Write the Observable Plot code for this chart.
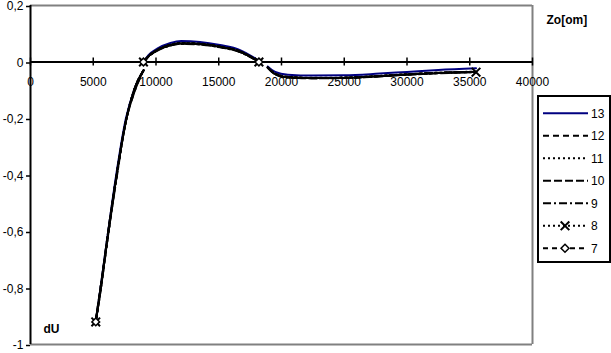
<!DOCTYPE html>
<html><head><meta charset="utf-8">
<script src="https://cdn.jsdelivr.net/npm/d3@7"></script>
<script src="https://cdn.jsdelivr.net/npm/@observablehq/plot@0.6"></script>
<style>
body{margin:0;background:#fff;font-family:"Liberation Sans",Arial,sans-serif;}
#wrap{position:relative;width:611px;height:353px;overflow:hidden;}
#wrap svg{position:absolute;left:0;top:0;}
</style></head><body><div id="wrap"></div>
<script>
const seriesNames = ["13","12","11","10","9","8","7"];
const xValues = [5200,5580,6190,6830,7600,8250,9000,
  9000,9400,10100,11150,12000,13500,15100,16700,17700,18200,
  18900,19500,20500,22500,25000,27500,30000,32500,35500];
const segmentOf = [0,0,0,0,0,0,0, 1,1,1,1,1,1,1,1,1,1, 2,2,2,2,2,2,2,2,2];
const s13 = [-0.92,-0.80,-0.60,-0.40,-0.20,-0.10,-0.03,
  0.000,0.024,0.047,0.067,0.074,0.071,0.060,0.042,0.018,0.003,
  -0.016,-0.035,-0.045,-0.048,-0.047,-0.042,-0.035,-0.028,-0.022];
const s12 = [-0.91,-0.80,-0.61,-0.41,-0.21,-0.11,-0.03,
  0.000,0.020,0.042,0.060,0.066,0.064,0.054,0.037,0.015,0.002,
  -0.020,-0.042,-0.053,-0.057,-0.056,-0.051,-0.044,-0.039,-0.035];
const s11 = [-0.92,-0.81,-0.61,-0.41,-0.21,-0.10,-0.03,
  0.000,0.021,0.043,0.061,0.067,0.065,0.055,0.038,0.015,0.002,
  -0.019,-0.041,-0.052,-0.056,-0.055,-0.050,-0.043,-0.038,-0.034];
const s10 = [-0.92,-0.80,-0.60,-0.41,-0.21,-0.10,-0.03,
  0.000,0.020,0.041,0.059,0.065,0.063,0.053,0.036,0.014,0.001,
  -0.021,-0.044,-0.055,-0.058,-0.057,-0.052,-0.045,-0.040,-0.036];
const s9 = [-0.92,-0.81,-0.61,-0.42,-0.21,-0.11,-0.03,
  0.000,0.019,0.040,0.058,0.064,0.062,0.052,0.035,0.013,0.001,
  -0.020,-0.042,-0.054,-0.057,-0.056,-0.051,-0.045,-0.039,-0.035];
const s8 = [-0.92,-0.80,-0.61,-0.41,-0.21,-0.10,-0.03,
  0.000,0.021,0.042,0.060,0.066,0.064,0.054,0.037,0.015,0.000,
  -0.019,-0.042,-0.053,-0.057,-0.056,-0.050,-0.044,-0.039,-0.036];
const s7 = [-0.92,-0.81,-0.60,-0.41,-0.21,-0.10,-0.03,
  0.000,0.020,0.042,0.061,0.067,0.064,0.054,0.036,0.014,0.000,
  -0.020,-0.043,-0.054,-0.057,-0.056,-0.051,-0.044,-0.038,-0.035];
const seriesValues = [s13,s12,s11,s10,s9,s8,s7];
const markers8 = [0,7,16,25];
const markers7 = [0,7,16];
const xTicks = [0,5000,10000,15000,20000,25000,30000,35000,40000];
const yTicks = [-1,-0.8,-0.6,-0.4,-0.2,0,0.2];

const styles = {
  "13":{stroke:"#000080",dash:null},
  "12":{stroke:"#000",dash:"6,4"},
  "11":{stroke:"#000",dash:"2,3"},
  "10":{stroke:"#000",dash:"8,3"},
  "9":{stroke:"#000",dash:"8,3,2,3"},
  "8":{stroke:"#000",dash:"2,3"},
  "7":{stroke:"#000",dash:"5,4"}
};

const rows = [];
seriesNames.forEach((name, si) => {
  seriesValues[si].forEach((v, i) => rows.push({name, seg: segmentOf[i], x: xValues[i], y: v}));
});
const fmt = d => String(Math.round(d*10)/10).replace(".", ",");

const lineMarks = seriesNames.map(name => Plot.line(rows.filter(r => r.name === name), {
  x: "x", y: "y", z: "seg", curve: "monotone-x",
  stroke: styles[name].stroke, strokeWidth: 2,
  strokeDasharray: styles[name].dash || undefined
}));
const m8 = markers8.map(i => ({x: xValues[i], y: s8[i]}));
const m7 = markers7.map(i => ({x: xValues[i], y: s7[i]}));

const chart = Plot.plot({
  width: 611, height: 353,
  marginLeft: 30, marginRight: 79, marginTop: 5, marginBottom: 9,
  style: {fontFamily: "'Liberation Sans', Arial, sans-serif", fontSize: "12px", background: "transparent", overflow: "visible"},
  x: {domain: [0, 40000], axis: null},
  y: {domain: [-1, 0.2], axis: null},
  marks: [
    Plot.ruleY([0.2], {stroke: "#808080", strokeWidth: 2}),
    Plot.ruleY([-1], {stroke: "#808080", strokeWidth: 2}),
    Plot.ruleX([40000], {stroke: "#808080", strokeWidth: 2}),
    Plot.axisY(yTicks, {label: null, tickFormat: fmt, tickSize: 4, tickPadding: 3, fontSize: 12, dy: 1, stroke: "#000", strokeWidth: 1.5, fill: "#000"}),
    Plot.ruleX([0], {stroke: "#000", strokeWidth: 2}),
    Plot.ruleY([0], {stroke: "#000", strokeWidth: 2}),
    Plot.ruleX(xTicks, {x: d => d, y1: 0, y2: 0, insetTop: -4, insetBottom: -4, stroke: "#000", strokeWidth: 1.5}),
    Plot.text(xTicks, {x: d => d, y: 0, dy: 20, text: d => String(d), fill: "#000", fontSize: 12}),
    ...lineMarks,
    Plot.dot(m8, {x: "x", y: "y", symbol: "times", r: 4, stroke: "#000", strokeWidth: 2}),
    Plot.dot(m7, {x: "x", y: "y", symbol: "diamond2", r: 3.5, stroke: "#000", fill: "#fff", strokeWidth: 1.5}),
    Plot.text(["Zo[om]"], {frameAnchor: "top-right", dx: 14, dy: 10, textAnchor: "start", fontWeight: "bold", fontSize: 12, fill: "#000"}),
    Plot.text(["dU"], {frameAnchor: "bottom-left", dx: 13, dy: -12, textAnchor: "start", fontWeight: "bold", fontSize: 12, fill: "#000"})
  ]
});
document.getElementById("wrap").appendChild(chart);

// legend
const lg = d3.select("#wrap").append("svg").attr("width", 611).attr("height", 353)
  .style("pointer-events", "none");
lg.append("rect").attr("x", 538).attr("y", 96).attr("width", 72).attr("height", 166)
  .attr("fill", "#fff").attr("stroke", "#000").attr("stroke-width", 2);
seriesNames.forEach((name, i) => {
  const y = 113.3 + 22.5 * i;
  lg.append("line").attr("x1", 543).attr("x2", 588).attr("y1", y).attr("y2", y)
    .attr("stroke", styles[name].stroke).attr("stroke-width", 2)
    .attr("stroke-dasharray", styles[name].dash);
  if (name === "8") lg.append("path").attr("transform", `translate(565,${y})`)
    .attr("d", d3.symbol(d3.symbolTimes, 50)()).attr("stroke", "#000").attr("stroke-width", 2).attr("fill", "none");
  if (name === "7") lg.append("path").attr("transform", `translate(565,${y})`)
    .attr("d", d3.symbol(d3.symbolDiamond2, 40)()).attr("stroke", "#000").attr("stroke-width", 1.5).attr("fill", "#fff");
  lg.append("text").attr("x", 591).attr("y", y).attr("dy", "0.35em")
    .attr("font-family", "'Liberation Sans', Arial, sans-serif").attr("font-size", 12).attr("fill", "#000")
    .text(name);
});
</script></body></html>
